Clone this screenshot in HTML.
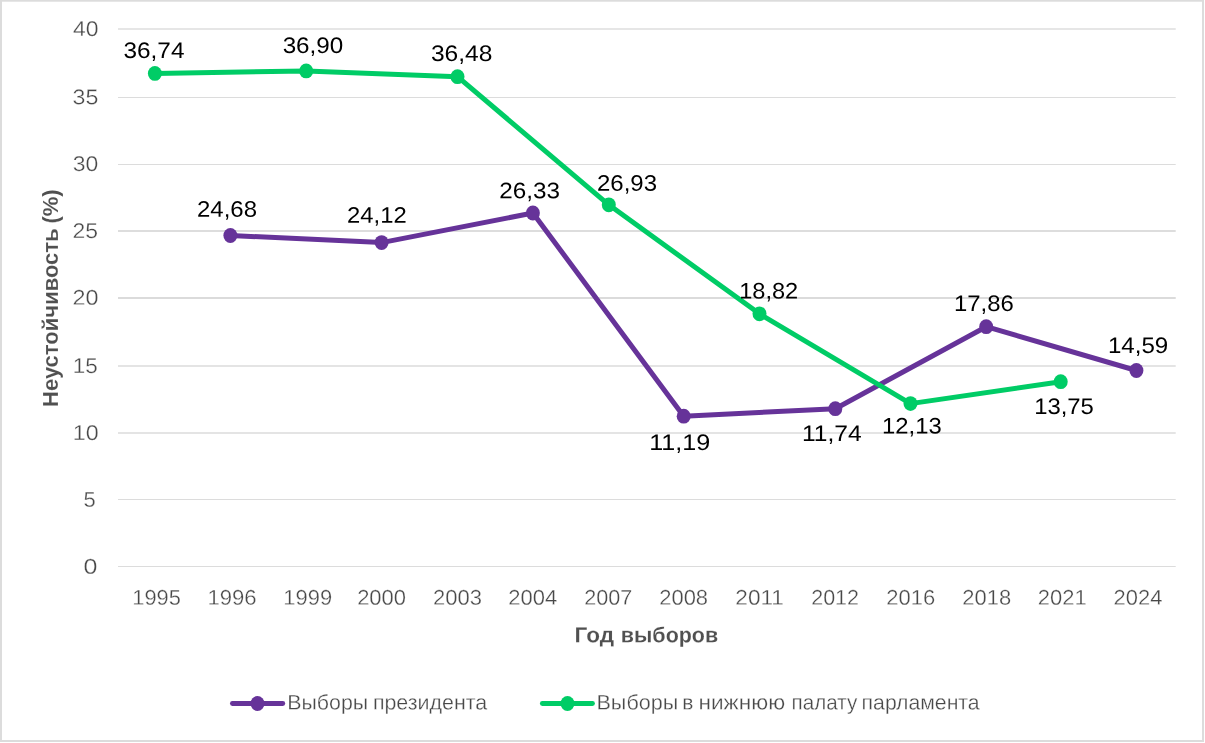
<!DOCTYPE html>
<html lang="ru"><head><meta charset="utf-8"><title>Неустойчивость по годам выборов</title>
<style>html,body{margin:0;padding:0;background:#fff;overflow:hidden}svg{display:block}text{font-family:"Liberation Sans", sans-serif;white-space:pre}</style></head>
<body><svg width="1205" height="743" viewBox="0 0 1205 743">
<rect width="1205" height="743" fill="#fff"/>
<g fill="#dcdcdc"><rect x="0" y="0" width="1204" height="1.7"/><rect x="0" y="0" width="2" height="742"/><rect x="1202" y="0.6" width="2" height="741.4"/><rect x="0" y="740" width="1204" height="2"/></g>
<g>
<rect x="118" y="28" width="1057.7" height="2" fill="#e6e6e6"/>
<rect x="118" y="97" width="1057.7" height="1" fill="#dcdcdc"/>
<rect x="118" y="164" width="1057.7" height="1" fill="#dcdcdc"/>
<rect x="118" y="230" width="1057.7" height="2" fill="#dddddd"/>
<rect x="118" y="297" width="1057.7" height="2" fill="#dbdbdb"/>
<rect x="118" y="365" width="1057.7" height="2" fill="#e4e4e4"/>
<rect x="118" y="432" width="1057.7" height="2" fill="#e4e4e4"/>
<rect x="118" y="499" width="1057.7" height="1" fill="#dcdcdc"/>
<rect x="118" y="566" width="1057.7" height="1" fill="#dcdcdc"/>
</g>
<g stroke="#663399" fill="#663399"><polyline fill="none" stroke-width="5.0" stroke-linejoin="round" stroke-linecap="round" points="230.4,235.5 381.6,242.6 532.9,213.0 683.7,416.2 835.3,408.7 986.2,326.7 1136.4,370.5"/><ellipse stroke="none" cx="230.4" cy="235.5" rx="7.0" ry="7.4"/><ellipse stroke="none" cx="381.6" cy="242.6" rx="7.0" ry="7.4"/><ellipse stroke="none" cx="532.9" cy="213.0" rx="7.0" ry="7.4"/><ellipse stroke="none" cx="683.7" cy="416.2" rx="7.0" ry="7.4"/><ellipse stroke="none" cx="835.3" cy="408.7" rx="7.0" ry="7.4"/><ellipse stroke="none" cx="986.2" cy="326.7" rx="7.0" ry="7.4"/><ellipse stroke="none" cx="1136.4" cy="370.5" rx="7.0" ry="7.4"/></g>
<g stroke="#00cc66" fill="#00cc66"><polyline fill="none" stroke-width="5.0" stroke-linejoin="round" stroke-linecap="round" points="154.9,73.4 306.2,70.9 457.5,76.7 608.8,204.8 759.5,313.8 910.5,403.6 1060.7,381.7"/><ellipse stroke="none" cx="154.9" cy="73.4" rx="7.0" ry="7.4"/><ellipse stroke="none" cx="306.2" cy="70.9" rx="7.0" ry="7.4"/><ellipse stroke="none" cx="457.5" cy="76.7" rx="7.0" ry="7.4"/><ellipse stroke="none" cx="608.8" cy="204.8" rx="7.0" ry="7.4"/><ellipse stroke="none" cx="759.5" cy="313.8" rx="7.0" ry="7.4"/><ellipse stroke="none" cx="910.5" cy="403.6" rx="7.0" ry="7.4"/><ellipse stroke="none" cx="1060.7" cy="381.7" rx="7.0" ry="7.4"/></g>
<g stroke="#663399" fill="#663399"><line x1="232.4" y1="703.5" x2="282.8" y2="703.5" stroke-width="4.8" stroke-linecap="round"/><ellipse stroke="none" cx="257.5" cy="703.5" rx="7.0" ry="7.5"/></g>
<g stroke="#00cc66" fill="#00cc66"><line x1="542.3" y1="703.5" x2="592.5" y2="703.5" stroke-width="4.8" stroke-linecap="round"/><ellipse stroke="none" cx="567.5" cy="703.5" rx="7.0" ry="7.5"/></g>
<g style="will-change:transform">
<text transform="translate(73.04 36.00) rotate(0.03) scale(1.0748 1)" font-size="21.35" fill="#484848" stroke="#fff" stroke-width="0.30">40</text>
<text transform="translate(72.52 104.20) rotate(0.03) scale(1.0851 1)" font-size="21.35" fill="#484848" stroke="#fff" stroke-width="0.30">35</text>
<text transform="translate(72.73 171.00) rotate(0.03) scale(1.0738 1)" font-size="21.35" fill="#484848" stroke="#fff" stroke-width="0.30">30</text>
<text transform="translate(72.39 238.10) rotate(0.03) scale(1.0769 1)" font-size="21.35" fill="#484848" stroke="#fff" stroke-width="0.30">25</text>
<text transform="translate(72.54 304.70) rotate(0.03) scale(1.0940 1)" font-size="21.35" fill="#484848" stroke="#fff" stroke-width="0.30">20</text>
<text transform="translate(72.71 372.90) rotate(0.03) scale(1.0551 1)" font-size="21.35" fill="#484848" stroke="#fff" stroke-width="0.30">15</text>
<text transform="translate(72.70 439.90) rotate(0.03) scale(1.0906 1)" font-size="21.35" fill="#484848" stroke="#fff" stroke-width="0.30">10</text>
<text transform="translate(83.46 506.70) rotate(0.03) scale(1.0305 1)" font-size="21.35" fill="#484848" stroke="#fff" stroke-width="0.30">5</text>
<text transform="translate(83.38 573.80) rotate(0.03) scale(1.1718 1)" font-size="21.35" fill="#484848" stroke="#fff" stroke-width="0.30">0</text>
<text transform="translate(132.26 604.80) rotate(0.03) scale(1.0239 1)" font-size="21.35" fill="#484848" stroke="#fff" stroke-width="0.30">1995</text>
<text transform="translate(207.38 604.80) rotate(0.03) scale(1.0363 1)" font-size="21.35" fill="#484848" stroke="#fff" stroke-width="0.30">1996</text>
<text transform="translate(283.33 604.80) rotate(0.03) scale(1.0272 1)" font-size="21.35" fill="#484848" stroke="#fff" stroke-width="0.30">1999</text>
<text transform="translate(357.15 604.80) rotate(0.03) scale(1.0295 1)" font-size="21.35" fill="#484848" stroke="#fff" stroke-width="0.30">2000</text>
<text transform="translate(433.12 604.80) rotate(0.03) scale(1.0314 1)" font-size="21.35" fill="#484848" stroke="#fff" stroke-width="0.30">2003</text>
<text transform="translate(508.34 604.80) rotate(0.03) scale(1.0292 1)" font-size="21.35" fill="#484848" stroke="#fff" stroke-width="0.30">2004</text>
<text transform="translate(584.17 604.80) rotate(0.03) scale(1.0128 1)" font-size="21.35" fill="#484848" stroke="#fff" stroke-width="0.30">2007</text>
<text transform="translate(659.26 604.80) rotate(0.03) scale(1.0282 1)" font-size="21.35" fill="#484848" stroke="#fff" stroke-width="0.30">2008</text>
<text transform="translate(735.30 604.80) rotate(0.03) scale(1.0598 1)" font-size="21.35" fill="#484848" stroke="#fff" stroke-width="0.30">2011</text>
<text transform="translate(811.17 604.80) rotate(0.03) scale(1.0077 1)" font-size="21.35" fill="#484848" stroke="#fff" stroke-width="0.30">2012</text>
<text transform="translate(886.25 604.80) rotate(0.03) scale(1.0296 1)" font-size="21.35" fill="#484848" stroke="#fff" stroke-width="0.30">2016</text>
<text transform="translate(962.34 604.80) rotate(0.03) scale(1.0281 1)" font-size="21.35" fill="#484848" stroke="#fff" stroke-width="0.30">2018</text>
<text transform="translate(1037.80 604.80) rotate(0.03) scale(1.0282 1)" font-size="21.35" fill="#484848" stroke="#fff" stroke-width="0.30">2021</text>
<text transform="translate(1113.56 604.80) rotate(0.03) scale(1.0277 1)" font-size="21.35" fill="#484848" stroke="#fff" stroke-width="0.30">2024</text>
<text transform="translate(123.49 57.90) rotate(0.03) scale(1.0830 1)" font-size="22.49" fill="#000">36,74</text>
<text transform="translate(282.63 53.00) rotate(0.03) scale(1.0764 1)" font-size="22.49" fill="#000">36,90</text>
<text transform="translate(430.92 60.90) rotate(0.03) scale(1.0928 1)" font-size="22.49" fill="#000">36,48</text>
<text transform="translate(197.02 216.80) rotate(0.03) scale(1.0664 1)" font-size="22.49" fill="#000">24,68</text>
<text transform="translate(347.03 222.80) rotate(0.03) scale(1.0596 1)" font-size="22.49" fill="#000">24,12</text>
<text transform="translate(499.20 198.20) rotate(0.03) scale(1.0786 1)" font-size="22.49" fill="#000">26,33</text>
<text transform="translate(597.02 190.80) rotate(0.03) scale(1.0665 1)" font-size="22.49" fill="#000">26,93</text>
<text transform="translate(739.16 298.40) rotate(0.03) scale(1.0496 1)" font-size="22.49" fill="#000">18,82</text>
<text transform="translate(649.13 449.90) rotate(0.03) scale(1.1170 1)" font-size="22.49" fill="#000">11,19</text>
<text transform="translate(802.00 441.10) rotate(0.03) scale(1.0943 1)" font-size="22.49" fill="#000">11,74</text>
<text transform="translate(882.12 433.60) rotate(0.03) scale(1.0585 1)" font-size="22.49" fill="#000">12,13</text>
<text transform="translate(954.01 310.90) rotate(0.03) scale(1.0617 1)" font-size="22.49" fill="#000">17,86</text>
<text transform="translate(1034.15 413.90) rotate(0.03) scale(1.0603 1)" font-size="22.49" fill="#000">13,75</text>
<text transform="translate(1107.95 353.00) rotate(0.03) scale(1.0723 1)" font-size="22.49" fill="#000">14,59</text>
<text transform="translate(574.52 642.30) rotate(0.03) scale(1.0416 1)" font-size="21.66" font-weight="700" fill="#505050" stroke="#fff" stroke-width="0.12">Год</text>
<text transform="translate(620.83 642.30) rotate(0.03) scale(0.9918 1)" font-size="21.66" font-weight="700" fill="#505050" stroke="#fff" stroke-width="0.12">выборов</text>
<text transform="translate(287.25 709.50) rotate(0.03) scale(1.0140 1)" font-size="21.08" fill="#484848" stroke="#fff" stroke-width="0.30">Выборы</text>
<text transform="translate(372.90 709.50) rotate(0.03) scale(1.0151 1)" font-size="21.08" fill="#484848" stroke="#fff" stroke-width="0.30">президента</text>
<text transform="translate(596.47 709.50) rotate(0.03) scale(1.0244 1)" font-size="21.08" fill="#484848" stroke="#fff" stroke-width="0.30">Выборы</text>
<text transform="translate(682.35 709.50) rotate(0.03) scale(0.9958 1)" font-size="21.08" fill="#484848" stroke="#fff" stroke-width="0.30">в</text>
<text transform="translate(698.49 709.50) rotate(0.03) scale(1.0729 1)" font-size="21.08" fill="#484848" stroke="#fff" stroke-width="0.30">нижнюю</text>
<text transform="translate(791.61 709.50) rotate(0.03) scale(0.9775 1)" font-size="21.08" fill="#484848" stroke="#fff" stroke-width="0.30">палату</text>
<text transform="translate(861.60 709.50) rotate(0.03) scale(1.0083 1)" font-size="21.08" fill="#484848" stroke="#fff" stroke-width="0.30">парламента</text>
<text transform="translate(57.90 406.98) rotate(-90) scale(0.9916 1.0000)" font-size="22.24" font-weight="700" fill="#505050" stroke="#fff" stroke-width="0.12">Неустойчивость</text>
<text transform="translate(57.90 223.61) rotate(-90) scale(0.9883 1.0000)" font-size="22.24" font-weight="700" fill="#505050" stroke="#fff" stroke-width="0.12">(%)</text>
</g>
</svg></body></html>
